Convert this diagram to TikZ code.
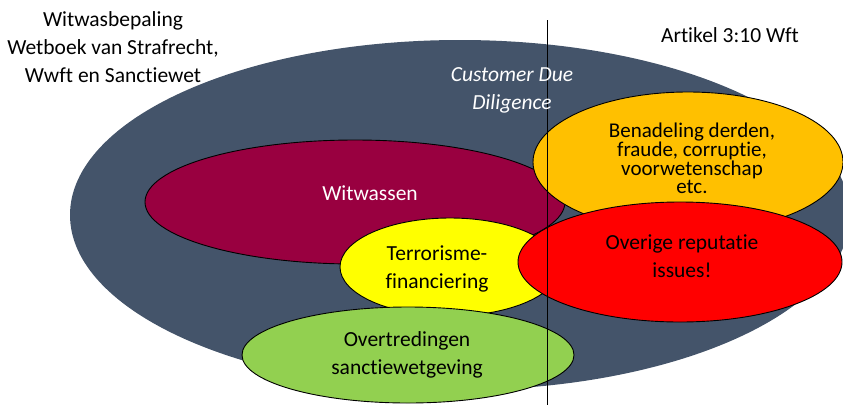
\documentclass[tikz,border=0pt]{standalone}
\usepackage{fontspec}
\setmainfont[Ligatures={NoCommon,NoRare,NoContextual}]{Carlito}
\definecolor{navy}{HTML}{44546A}
\definecolor{maroon}{HTML}{990040}
\definecolor{amber}{HTML}{FFC000}
\definecolor{lemon}{HTML}{FFFF00}
\definecolor{lime}{HTML}{92D050}
\definecolor{brightred}{HTML}{FF0000}
\begin{document}
\begin{tikzpicture}[x=1pt,y=-1pt,
  blob/.style={draw=black,line width=0.9pt},
  lbl/.style={align=center,font=\fontsize{21.5}{28}\selectfont,inner sep=0pt},
  tight/.style={align=center,font=\fontsize{21}{17.5}\selectfont,inner sep=0pt}]
\useasboundingbox (0,0) rectangle (843,405);
\begin{scope}
\clip (0,0) rectangle (843,405);
\fill[navy] (460,215) ellipse [x radius=390, y radius=175];
\filldraw[blob,fill=maroon] (355,202) ellipse [x radius=210, y radius=62];
\filldraw[blob,fill=amber] (688,162) ellipse [x radius=155, y radius=70];
\filldraw[blob,fill=lemon] (450,267) ellipse [x radius=110, y radius=49];
\filldraw[blob,fill=lime] (408,355) ellipse [x radius=166, y radius=48];
\filldraw[blob,fill=brightred] (680,262) ellipse [x radius=162, y radius=60];
\end{scope}
\coordinate (ltop) at (547,20);
\coordinate (lbot) at (547,405);
\draw[black,line width=1pt] (ltop) -- (lbot);
\node[lbl] (wb) at (113,47) {Witwasbepaling\\Wetboek van Strafrecht,\\Wwft en Sanctiewet};
\node[lbl] (art) at (730,35) {Artikel 3:10 Wft};
\node[lbl,text=white,font=\fontsize{21.5}{28}\selectfont\itshape] (cdd) at (512,90) {Customer Due\\Diligence};
\node[lbl,text=white] (ww) at (370,193) {Witwassen};
\node[tight] (ben) at (692,158) {Benadeling derden,\\fraude, corruptie,\\voorwetenschap\\etc.};
\node[lbl] (ovr) at (682,256) {Overige reputatie\\issues!};
\node[lbl] (tf) at (437,269) {Terrorisme-\\financiering};
\node[lbl] (ot) at (407,355) {Overtredingen\\sanctiewetgeving};
\end{tikzpicture}
\end{document}
